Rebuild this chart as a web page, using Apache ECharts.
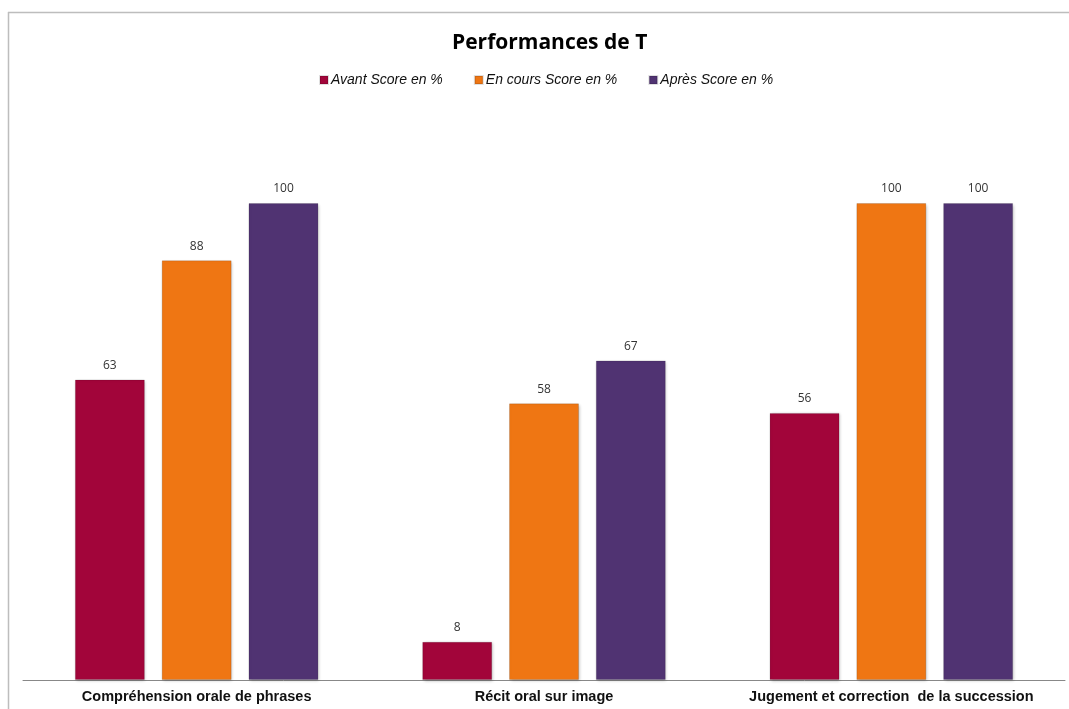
<!DOCTYPE html>
<html>
<head>
<meta charset="utf-8">
<script src="https://cdn.jsdelivr.net/npm/echarts@6/dist/echarts.min.js"></script>
<style>
html,body{margin:0;padding:0;background:#fff;}
#chart{width:1069px;height:709px;}
</style>
</head>
<body>
<div id="chart"></div>
<script>
var categories = ["Compréhension orale de phrases", "Récit oral sur image", "Jugement et correction  de la succession"];
var seriesNames = ["Avant Score en %", "En cours Score en %", "Après Score en %"];
var avant = [63, 8, 56];
var enCours = [88, 58, 100];
var apres = [100, 67, 100];
var colors = ["#A2053A", "#EF7613", "#503372"];

var chart = echarts.init(document.getElementById('chart'));
function mkSeries(name, data, color) {
  return {
    name: name,
    type: 'bar',
    data: data,
    barWidth: 70,
    barGap: '24%',
    itemStyle: {
      color: color,
      borderColor: 'rgba(0,0,0,0.12)',
      borderWidth: 1,
      shadowColor: 'rgba(0,0,0,0.25)',
      shadowBlur: 3,
      shadowOffsetX: 1,
      shadowOffsetY: 1
    },
    label: {
      show: true,
      position: 'top',
      distance: 8,
      color: '#333',
      fontSize: 12,
      fontFamily: 'Open Sans, Liberation Sans, sans-serif'
    }
  };
}
chart.setOption({
  backgroundColor: '#fff',
  animation: false,
  title: {
    text: 'Performances de T',
    left: 447,
    top: 28,
    textStyle: {
      fontSize: 21,
      fontWeight: 'bold',
      color: '#000',
      fontFamily: 'Open Sans, Liberation Sans, sans-serif'
    }
  },
  legend: {
    data: seriesNames,
    left: 314,
    top: 68,
    itemWidth: 8,
    itemHeight: 8,
    itemGap: 31,
    icon: 'rect',
    textStyle: {
      fontStyle: 'italic',
      fontSize: 14,
      color: '#111',
      fontFamily: 'Liberation Sans, Arial, sans-serif',
      padding: [0, 0, 0, -2]
    }
  },
  grid: { left: 23, right: 4, top: 203, bottom: 29, containLabel: false },
  xAxis: {
    type: 'category',
    data: categories,
    axisLine: { show: true, lineStyle: { color: '#888', width: 1 } },
    axisTick: { show: false },
    axisLabel: {
      interval: 0,
      margin: 9,
      fontWeight: 'bold',
      fontSize: 14.5,
      color: '#111',
      fontFamily: 'Liberation Sans, Arial, sans-serif'
    }
  },
  yAxis: {
    type: 'value',
    min: 0,
    max: 100,
    show: false,
    splitLine: { show: false }
  },
  graphic: [
    { type: 'line', shape: { x1: 8, y1: 12.5, x2: 1069, y2: 12.5 }, style: { stroke: '#bdbdbd', lineWidth: 1.5 } },
    { type: 'line', shape: { x1: 8.5, y1: 12, x2: 8.5, y2: 709 }, style: { stroke: '#bdbdbd', lineWidth: 1.5 } }
  ],
  series: [
    mkSeries(seriesNames[0], avant, colors[0]),
    mkSeries(seriesNames[1], enCours, colors[1]),
    mkSeries(seriesNames[2], apres, colors[2])
  ]
});
</script>
</body>
</html>
